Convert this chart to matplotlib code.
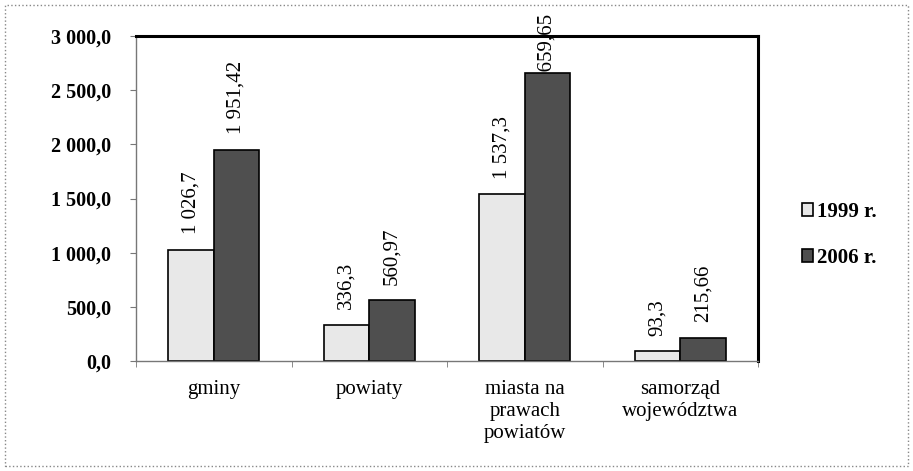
"""Budget comparison of local government units, 1999 vs 2006."""

import matplotlib

matplotlib.use('Agg')
from matplotlib import pyplot as plt  # noqa: E402
from matplotlib.patches import Rectangle  # noqa: E402
from matplotlib.ticker import FuncFormatter  # noqa: E402
import numpy as np  # noqa: E402

categories = ['gminy', 'powiaty', 'miasta na\nprawach\npowiatów', 'samorząd\nwojewództwa']
values_1999 = [1026.7, 336.3, 1537.3, 93.3]
values_2006 = [1951.42, 560.97, 2659.65, 215.66]
labels_1999 = ['1 026,7', '336,3', '1 537,3', '93,3']
labels_2006 = ['1 951,42', '560,97', '2 659,65', '215,66']
series_names = ['1999 r.', '2006 r.']

plt.rcParams['font.family'] = ['Liberation Serif', 'DejaVu Serif']

fig = plt.figure(figsize=(9.13, 4.71), dpi=100)
ax = fig.add_axes([136 / 913, 1 - 361 / 471, (758 - 136) / 913, (361 - 36) / 471])

x = np.arange(len(categories))
width = 0.293
bars_a = ax.bar(x - width / 2, values_1999, width, color='#e8e8e8', edgecolor='black',
                linewidth=1.2, label=series_names[0], zorder=2)
bars_b = ax.bar(x + width / 2, values_2006, width, color='#4f4f4f', edgecolor='black',
                linewidth=1.2, label=series_names[1], zorder=2)

for bars, labels in ((bars_a, labels_1999), (bars_b, labels_2006)):
    for bar, text in zip(bars, labels):
        # labels near the top of the range slide down into the bar, as in the source
        high = bar.get_height() > 2500
        ax.annotate(text, (bar.get_x() + bar.get_width() / 2, bar.get_height()),
                    xytext=(0, -10 if high else 11), textcoords='offset points',
                    rotation=90, ha='center', va='bottom', fontsize=15,
                    zorder=1 if high else 3, annotation_clip=False)

ax.set_xlim(-0.5, len(categories) - 0.5)
ax.set_ylim(0, 3000)
ax.set_yticks(np.arange(0, 3001, 500))
ax.yaxis.set_major_formatter(FuncFormatter(
    lambda v, _: f'{v:,.1f}'.replace(',', ' ').replace('.', ',')))
ax.set_xticks(x)
ax.set_xticklabels(categories, fontsize=15, va='top', linespacing=1.2)
ax.set_xticks(np.arange(-0.5, len(categories)), minor=True)
ax.tick_params(axis='x', which='major', length=0, pad=14)
ax.tick_params(axis='x', which='minor', length=4, color='#777777', direction='out')
ax.tick_params(axis='y', length=4, color='#777777', labelsize=14.5, pad=14)
for lbl in ax.get_yticklabels():
    lbl.set_fontweight('bold')

for side in ('top', 'right'):
    ax.spines[side].set_linewidth(2.2)
    ax.spines[side].set_color('black')
for side in ('left', 'bottom'):
    ax.spines[side].set_linewidth(1.0)
    ax.spines[side].set_color('#777777')

leg = fig.legend(handles=[bars_a, bars_b], labels=series_names, loc='center left',
                 bbox_to_anchor=(802 / 913, 1 - 235 / 471), frameon=False,
                 handlelength=0.55, handleheight=0.55, handletextpad=0.15,
                 labelspacing=1.25, borderpad=0, borderaxespad=0,
                 prop={'size': 15, 'weight': 'bold'})

fig.patches.append(Rectangle((5 / 913, 5 / 471), 903 / 913, 461 / 471,
                             transform=fig.transFigure, fill=False,
                             edgecolor='#888888', linewidth=1.0, linestyle=':'))

fig.savefig('out.png', dpi=100)
plt.close(fig)
